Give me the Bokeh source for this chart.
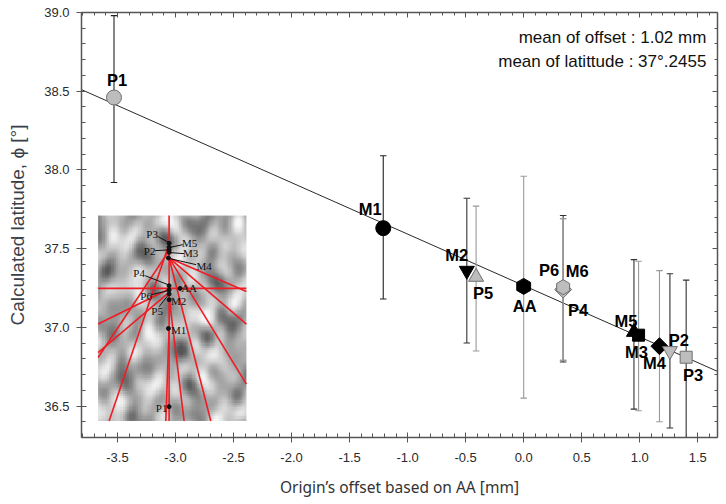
import numpy as np
from bokeh.plotting import figure
from bokeh.models import (ColumnDataSource, Range1d, LinearAxis, SingleIntervalTicker,
                          Label, LinearColorMapper, NumeralTickFormatter)
from bokeh.core.properties import value
from bokeh.embed import file_html
from bokeh.resources import INLINE

# ---------------- data ----------------
names     = ["P1", "M1", "M2", "P5", "AA", "M6", "P4", "P6", "M5", "M3", "M4", "P2", "P3"]
offset    = [-3.53, -1.21, -0.49, -0.41, 0.00, 0.34, 0.34, 0.34, 0.95, 0.99, 1.17, 1.26, 1.40]
latitude  = [38.46, 37.63, 37.36, 37.32, 37.26, 37.25, 37.24, 37.255, 36.97, 36.95, 36.88, 36.85, 36.81]
lat_upper = [38.98, 38.09, 37.82, 37.77, 37.96, 37.71, 37.69, 37.69, 37.43, 37.42, 37.36, 37.34, 37.30]
lat_lower = [37.92, 37.18, 36.90, 36.85, 36.55, 36.78, 36.79, 36.79, 36.48, 36.47, 36.40, 36.36, 36.28]

# regression line end points
fit_x = [-3.81, 1.67]
fit_y = [38.51, 36.72]

mean_offset_text = "mean of offset : 1.02 mm"
mean_lat_text = "mean of latittude : 37°.2455"

# ---------------- styles ----------------
BLACK, GREY, GREY_LINE = "#000000", "#bdbdbd", "#6e6e6e"
marker_kind = ["circle", "circle", "inverted_triangle", "triangle", "hex", "circle", "square",
               "hex", "triangle", "square", "square", "inverted_triangle", "square"]
marker_fill = [GREY, BLACK, BLACK, GREY, BLACK, BLACK, GREY, GREY, BLACK, BLACK, BLACK, GREY, GREY]
marker_line = [GREY_LINE if f == GREY else BLACK for f in marker_fill]
marker_size = [15, 15, 15, 15, 16, 6, 12, 15, 15, 12, 12, 15, 12]
marker_angle = [0, 0, 0, 0, np.pi / 2, 0, np.pi / 4, np.pi / 2, 0, 0, np.pi / 4, 0, 0]
bar_color = ["#222222", "#222222", "#333333", "#9a9a9a", "#9a9a9a", "#333333", "#9a9a9a",
             "#9a9a9a", "#333333", "#9a9a9a", "#9a9a9a", "#333333", "#333333"]
label_dx = [3, -13, -10, 7, 1, 14, 15, -14, -8, -2, -5, 9, 7]
label_dy = [-18, -19, -16, 16, 20, -17, 20, -17, -11, 17, 17, -11, 18]

X_RANGE = (-3.81, 1.67)
Y_RANGE = (36.3, 39.0)

p = figure(width=720, height=500, x_range=Range1d(*X_RANGE), y_range=Range1d(*Y_RANGE),
           output_backend="svg", toolbar_location=None,
           min_border_left=81, min_border_right=3, min_border_top=12, min_border_bottom=63)
p.xgrid.visible = False
p.ygrid.visible = False
p.outline_line_color = None
p.background_fill_color = "white"
p.border_fill_color = "white"

tick_x = SingleIntervalTicker(interval=0.5, num_minor_ticks=5)
tick_y = SingleIntervalTicker(interval=0.5, num_minor_ticks=5)

for ax, tk in ((p.xaxis[0], tick_x), (p.yaxis[0], tick_y)):
    ax.ticker = tk
    ax.formatter = NumeralTickFormatter(format="0.0")
    ax.axis_line_color = "#555555"
    ax.axis_line_width = 1.5
    ax.major_tick_line_color = "#555555"
    ax.minor_tick_line_color = "#555555"
    ax.major_tick_in = 5
    ax.major_tick_out = 5
    ax.minor_tick_in = 4
    ax.minor_tick_out = 0
    ax.major_label_text_font = "Liberation Sans"
    ax.major_label_text_font_size = "13px"
    ax.major_label_text_color = "#2a2a2a"

p.xaxis.axis_label = "Origin\u2019s offset based on AA [mm]"
p.xaxis.axis_label_text_font = "Noto Sans"
p.xaxis.axis_label_text_font_style = "normal"
p.xaxis.axis_label_text_font_size = "15.5px"
p.xaxis.axis_label_text_color = "#333333"
p.xaxis.major_label_standoff = 10
p.xaxis.axis_label_standoff = 11

p.yaxis.axis_label = "Calculated latitude, \u03d5 [\u00b0]"
p.yaxis.axis_label_text_font = "Liberation Sans"
p.yaxis.axis_label_text_font_style = "normal"
p.yaxis.axis_label_text_font_size = "19px"
p.yaxis.axis_label_text_color = "#3b3f4a"
p.yaxis.major_label_standoff = 7
p.yaxis.axis_label_standoff = 13

for loc, tk in (("above", tick_x), ("right", tick_y)):
    ax = LinearAxis(ticker=tk, axis_line_color="#555555", axis_line_width=1.5,
                    major_tick_line_color="#555555", minor_tick_line_color="#555555",
                    major_tick_in=5, major_tick_out=0, minor_tick_in=3, minor_tick_out=0,
                    major_label_text_font_size="0px", major_label_text_color=None,
                    major_label_standoff=0)
    p.add_layout(ax, loc)

# ---------------- inset (photo with red lines) ----------------
inset_x0, inset_x1 = -3.667, -2.389
inset_y0, inset_y1 = 36.405, 37.71
inset_wpx, inset_hpx = 148.3, 205.0


def ix(px):
    return inset_x0 + np.asarray(px, dtype=float) / inset_wpx * (inset_x1 - inset_x0)


def iy(py):
    return inset_y1 - np.asarray(py, dtype=float) / inset_hpx * (inset_y1 - inset_y0)


# smooth deterministic "cloudy" texture standing in for the photograph
ny, nx = 90, 66
yy, xx = np.mgrid[0:ny, 0:nx]
u = xx / nx
v = yy / ny
waves = [(2.6, 0.9, 0.4, 1.0), (1.2, -3.6, 1.9, 1.0), (4.7, 2.5, 2.7, 0.8),
         (-2.1, 5.3, 0.3, 0.7), (5.9, -3.1, 4.1, 0.6), (3.3, 6.2, 5.2, 0.5),
         (6.8, 1.7, 1.3, 0.45), (-4.4, -6.6, 3.6, 0.45), (1.9, 7.4, 2.2, 0.4),
         (7.7, -5.2, 0.9, 0.35)]
tex = sum(a * np.sin(2 * np.pi * (fu * u + fv * v) + ph) for fu, fv, ph, a in waves)
tex = (tex - tex.min()) / (tex.max() - tex.min())
grey_palette = ["#%02x%02x%02x" % (g, g, g) for g in range(85, 248)]
mapper = LinearColorMapper(palette=grey_palette, low=0.05, high=0.95)
p.image(image=[tex], x=inset_x0, y=inset_y0, dw=inset_x1 - inset_x0, dh=inset_y1 - inset_y0,
        color_mapper=mapper)

red_x0 = [71, 0, 71, 71, 71, 71, 71, 71, 71, 71, 71, 71]
red_y0 = [0, 72.7, 28.3, 35, 73.3, 76.7, 42.3, 42.3, 42.3, 42.3, 81.7, 112.7]
red_x1 = [71, 148.3, 11, 0, 0, 0, 148.3, 148.3, 148.3, 112.7, 86, 67.7]
red_y1 = [205, 72.7, 205, 141.7, 108.3, 136.7, 75.7, 108.3, 168.3, 205, 205, 205]
p.segment(x0=ix(red_x0), y0=iy(red_y0), x1=ix(red_x1), y1=iy(red_y1),
          line_color="#ee1c25", line_width=1.6)

inset_names = ["P3", "P2", "M5", "M3", "M4", "P4", "AA", "P6", "P5", "M2", "M1", "P1"]
inset_pt_x = [71, 71, 71, 71, 70.3, 71, 82, 71, 71, 71, 70.3, 71]
inset_pt_y = [27.7, 34.3, 31.7, 36.7, 42.3, 70, 72.7, 74.3, 78.3, 84, 112.7, 190.7]
inset_lab_x = [54, 51.5, 91.5, 92.5, 106, 41, 91, 48, 59, 80.5, 80.5, 63.5]
inset_lab_y = [18.3, 35, 27.7, 37.7, 50.3, 57.7, 72.7, 80, 95.7, 85, 114.3, 191.7]
lead_x0 = [60, 57, 85, 86, 98, 47, 82, 53, 61]
lead_y0 = [21, 35, 29, 38, 49, 60, 72.7, 79, 91]
lead_x1 = [70, 70, 72, 72, 72, 70, 82, 70, 70]
lead_y1 = [26.5, 34.3, 31.7, 37, 43, 69, 72.7, 75, 79.5]

p.segment(x0=ix(lead_x0), y0=iy(lead_y0), x1=ix(lead_x1), y1=iy(lead_y1),
          line_color="#111111", line_width=1)
p.scatter(x=ix(inset_pt_x), y=iy(inset_pt_y), size=4, color="#111111")
p.text(x=ix(inset_lab_x), y=iy(inset_lab_y), text=inset_names,
       text_font=value("Liberation Serif"), text_font_size="11px", text_color="#111111",
       text_align="center", text_baseline="middle")

# ---------------- regression line ----------------
p.line(fit_x, fit_y, line_color="#111111", line_width=0.9)

# ---------------- error bars ----------------
src = ColumnDataSource(dict(
    name=names, x=offset, y=latitude, up=lat_upper, lo=lat_lower,
    cap_l=[xv - 0.028 for xv in offset], cap_r=[xv + 0.028 for xv in offset],
    bar_color=bar_color, marker=marker_kind, fill=marker_fill, line=marker_line,
    size=marker_size, angle=marker_angle, dx=label_dx, dy=label_dy))

p.segment(x0="x", y0="lo", x1="x", y1="up", source=src, line_color="bar_color", line_width=1.1)
p.segment(x0="cap_l", y0="up", x1="cap_r", y1="up", source=src, line_color="bar_color", line_width=1.1)
p.segment(x0="cap_l", y0="lo", x1="cap_r", y1="lo", source=src, line_color="bar_color", line_width=1.1)

# ---------------- markers ----------------
p.scatter(x="x", y="y", source=src, marker="marker", size="size", angle="angle",
          fill_color="fill", line_color="line", line_width=1)

# ---------------- point labels ----------------
p.text(x="x", y="y", text="name", source=src, x_offset="dx", y_offset="dy",
       text_font=value("Liberation Sans"), text_font_style="bold", text_font_size="16.5px",
       text_color="#000000", text_align="center", text_baseline="middle")

# ---------------- mean annotations ----------------
p.add_layout(Label(x=1.574, y=38.84, text=mean_offset_text, text_align="right",
                   text_baseline="middle", text_font="Liberation Sans", text_font_size="17px",
                   text_color="#111111"))
p.add_layout(Label(x=1.574, y=38.69, text=mean_lat_text, text_align="right",
                   text_baseline="middle", text_font="Liberation Sans", text_font_size="17px",
                   text_color="#111111"))

open("out.html", "w").write(file_html(p, INLINE))
